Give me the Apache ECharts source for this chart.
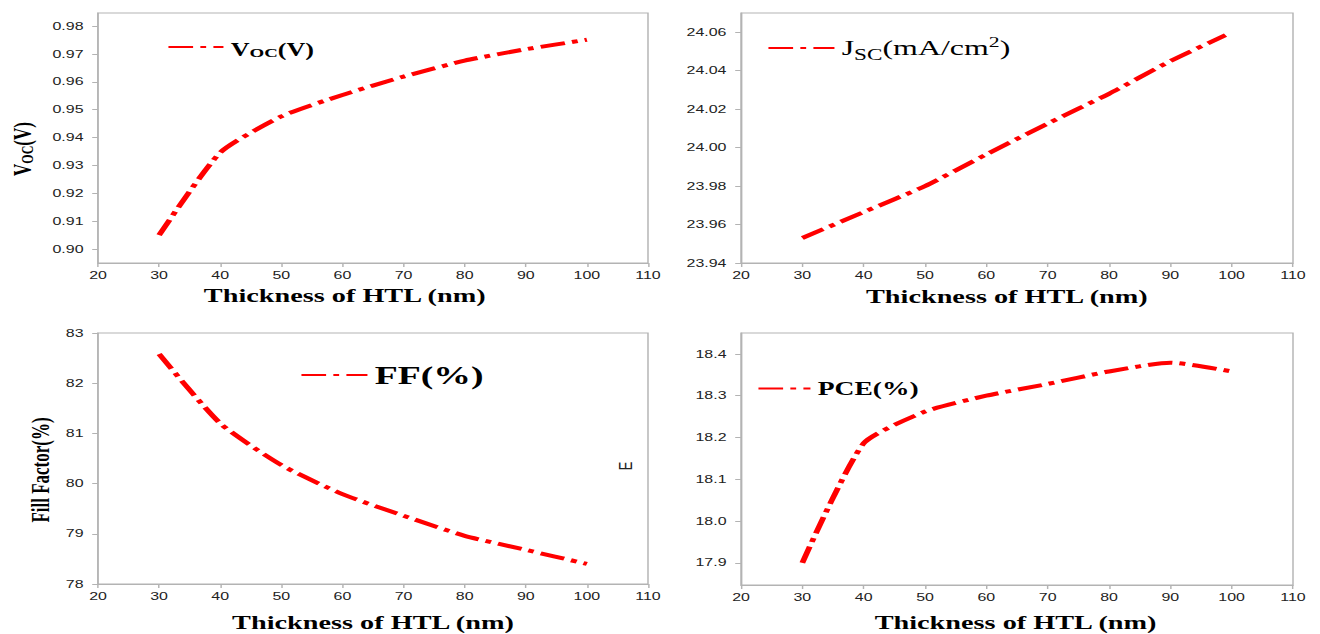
<!DOCTYPE html>
<html>
<head>
<meta charset="utf-8">
<script src="https://cdn.jsdelivr.net/npm/echarts@6/dist/echarts.min.js"></script>
<style>
  html, body { margin: 0; padding: 0; background: #fff; overflow: hidden; }
  #chart { height: 634px; transform-origin: 0 0; }
</style>
</head>
<body>
<div id="chart"></div>
<script>
// HTL thickness sweep (nm) and simulated device parameters
const thickness = [30, 40, 50, 60, 70, 80, 90, 100];
const jscThickness = [30, 40, 50, 60, 70, 80, 90, 99];
const voc = [0.905, 0.9346, 0.9476, 0.9553, 0.9619, 0.9676, 0.9717, 0.9751];
const jsc = [23.953, 23.9665, 23.980, 23.9965, 24.0125, 24.028, 24.045, 24.0585];
const ff  = [82.58, 81.20, 80.37, 79.79, 79.36, 78.96, 78.68, 78.40];
const pce = [17.90, 18.186, 18.262, 18.300, 18.328, 18.358, 18.379, 18.358];

// tick labels
const xTicks = [20, 30, 40, 50, 60, 70, 80, 90, 100, 110];
const vocTicks = [0.90, 0.91, 0.92, 0.93, 0.94, 0.95, 0.96, 0.97, 0.98];
const jscTicks = [23.94, 23.96, 23.98, 24.00, 24.02, 24.04, 24.06];
const ffTicks = [78, 79, 80, 81, 82, 83];
const pceTicks = [17.9, 18.0, 18.1, 18.2, 18.3, 18.4];

// the figure is laid out narrow and widened horizontally
const SX = 1.45;
const px = v => v / SX;
const el = document.getElementById('chart');
el.style.width = (1320 / SX) + 'px';
el.style.transform = 'scaleX(' + SX + ')';

const RED = '#ff0000';
const AXIS = '#b3b3b3';
const dash = [17, 5, 4, 5];
const serif = 'Liberation Serif';

function xAxisFor(i, gap, padRight) {
  return {
    type: 'value', gridIndex: i, min: xTicks[0], max: xTicks[xTicks.length - 1], interval: 10,
    name: 'Thickness of HTL (nm)', nameLocation: 'middle', nameGap: gap,
    nameTextStyle: { fontFamily: serif, fontWeight: 'bold', fontSize: 19.5, color: '#000', padding: [0, padRight, 0, 0] },
    axisLine: { show: true, onZero: false, lineStyle: { color: AXIS, width: 1 } },
    axisTick: { show: true, inside: false, length: 4, lineStyle: { color: AXIS } },
    axisLabel: { margin: 7, fontFamily: 'Liberation Sans', fontSize: 11, color: '#222' },
    splitLine: { show: false }
  };
}

function yAxisFor(i, lo, hi, ticks, digits, extra) {
  return Object.assign({
    type: 'value', gridIndex: i, min: lo, max: hi,
    axisLine: { show: true, onZero: false, lineStyle: { color: AXIS, width: 1 } },
    axisTick: { show: true, inside: false, length: 4, customValues: ticks, lineStyle: { color: AXIS } },
    axisLabel: { margin: 10, customValues: ticks, fontFamily: 'Liberation Sans', fontSize: 11, color: '#222',
                 formatter: v => v.toFixed(digits) },
    splitLine: { show: false }
  }, extra || {});
}

function lineSeries(name, i, xs, ys) {
  return {
    type: 'line', name: name, xAxisIndex: i, yAxisIndex: i,
    data: xs.map((x, k) => [x, ys[k]]),
    symbol: 'none', smooth: 0.2, color: RED,
    lineStyle: { color: RED, width: 4, type: dash, cap: 'butt' }
  };
}

function legendFor(name, left, cy, width, rich, text) {
  return {
    data: [name], left: left, top: cy - 7, padding: 0, itemWidth: width, itemHeight: 14,
    itemStyle: { opacity: 0 },
    formatter: () => text,
    textStyle: { color: '#000', rich: rich }
  };
}

const option = {
  backgroundColor: '#fff',
  animation: false,
  grid: [
    { left: px(98),  top: 13,  width: px(550), height: 250 },
    { left: px(741), top: 13,  width: px(552), height: 250 },
    { left: px(98),  top: 333, width: px(550), height: 251 },
    { left: px(741), top: 333, width: px(552), height: 252 }
  ].map(g => Object.assign(g, { show: true, borderColor: AXIS, borderWidth: 1, backgroundColor: 'transparent' })),
  xAxis: [xAxisFor(0, 22, 39), xAxisFor(1, 23, 14), xAxisFor(2, 28, 0), xAxisFor(3, 27, 2)],
  yAxis: [
    yAxisFor(0, 0.895, 0.9847, vocTicks, 2, {
      name: '{m|V}{s|OC}{m|(V)}', nameLocation: 'middle', nameGap: 43,
      nameTextStyle: { padding: [0, 22, 0, 0], rich: {
        m: { fontFamily: serif, fontWeight: 'bold', fontSize: 17, color: '#000', lineHeight: 24, verticalAlign: 'bottom' },
        s: { fontFamily: serif, fontWeight: 'bold', fontSize: 12, color: '#000', lineHeight: 9, verticalAlign: 'bottom' }
      } }
    }),
    yAxisFor(1, 23.94, 24.07, jscTicks, 2),
    yAxisFor(2, 78, 83, ffTicks, 0, {
      name: 'Fill Factor(%)', nameLocation: 'middle', nameGap: 31,
      nameTextStyle: { fontFamily: serif, fontWeight: 'bold', fontSize: 17, color: '#000', padding: [0, 23, 0, 0] }
    }),
    yAxisFor(3, 17.847, 18.45, pceTicks, 1)
  ],
  legend: [
    legendFor('Voc', px(167), 48, px(55), {
      m: { fontFamily: serif, fontWeight: 'bold', fontSize: 18, lineHeight: 24, verticalAlign: 'bottom' },
      s: { fontFamily: serif, fontWeight: 'bold', fontSize: 13, lineHeight: 9, verticalAlign: 'bottom' }
    }, '{m|V}{s|OC}{m|(V)}'),
    legendFor('Jsc', px(767), 41, px(66), {
      m: { fontFamily: serif, fontSize: 22, lineHeight: 28, verticalAlign: 'middle' },
      s: { fontFamily: serif, fontSize: 16, lineHeight: 10, verticalAlign: 'bottom' },
      p: { fontFamily: serif, fontSize: 15, lineHeight: 10, verticalAlign: 'top' }
    }, '{m|J}{s|SC}{m|(mA/cm}{p|2}{m|)}'),
    legendFor('FF', px(300), 369, px(66), {
      m: { fontFamily: serif, fontWeight: 'bold', fontSize: 26 }
    }, '{m|FF(%)}'),
    legendFor('PCE', px(757), 386, px(52), {
      m: { fontFamily: serif, fontWeight: 'bold', fontSize: 19 }
    }, '{m|PCE(%)}')
  ],
  graphic: [{
    type: 'text', x: px(625), y: 466, rotation: Math.PI / 2,
    style: { text: 'E', font: '13px "Liberation Sans"', fill: '#222', align: 'center', verticalAlign: 'middle' }
  }],
  series: [
    lineSeries('Voc', 0, thickness, voc),
    lineSeries('Jsc', 1, jscThickness, jsc),
    lineSeries('FF', 2, thickness, ff),
    lineSeries('PCE', 3, thickness, pce)
  ]
};

const chart = echarts.init(el, null, { renderer: 'svg' });
chart.setOption(option);
</script>
</body>
</html>
